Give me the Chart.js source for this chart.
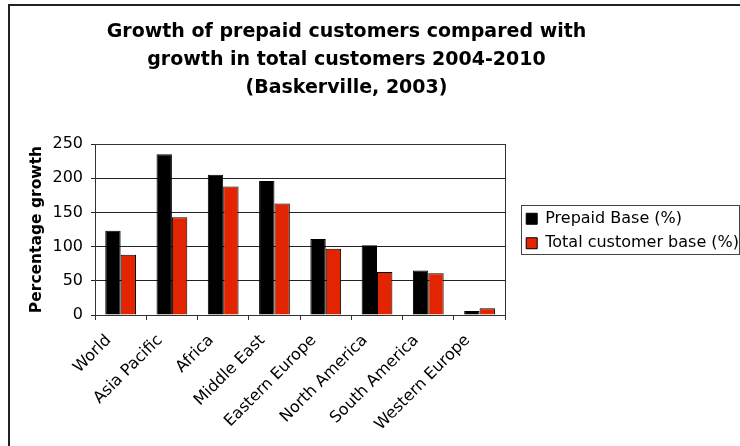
<!DOCTYPE html>
<html>
<head>
<meta charset="utf-8">
<script src="https://cdn.jsdelivr.net/npm/chart.js@4"></script>
<style>
  html, body { margin: 0; padding: 0; background: #fff; overflow: hidden; }
  #wrap { position: relative; width: 740px; height: 446px; overflow: hidden; }
  #frame { position: absolute; left: 8px; top: 4px; width: 800px; height: 480px; border: 2px solid #222; box-sizing: border-box; }
  #box { position: absolute; left: 0; top: 0; width: 749px; height: 446px; }
</style>
</head>
<body>
<div id="wrap">
  <div id="frame"></div>
  <div id="box"><canvas id="growthChart"></canvas></div>
</div>
<script>
// * data
const regions = ["World", "Asia Pacific", "Africa", "Middle East", "Eastern Europe", "North America", "South America", "Western Europe"];
const prepaidBase = [123, 235, 205, 196, 111, 102, 65, 6];
const totalBase = [88, 143, 188, 163, 97, 63, 61, 10];
const yTicks = [0, 50, 100, 150, 200, 250];

Chart.defaults.font.family = "'DejaVu Sans', Verdana, sans-serif";
Chart.defaults.color = "#000";

// ? title centred on the old excel chart width, not the canvas
const titleShift = {
  id: "titleShift",
  afterLayout(chart) {
    chart.titleBlock.left = 0;
    chart.titleBlock.right = 693;
  },
};

// ? box round the plot area and round the legend
const boxes = {
  id: "boxes",
  beforeDatasetsDraw(chart) {
    const { ctx, chartArea: a } = chart;
    ctx.save();
    ctx.strokeStyle = "#333";
    ctx.lineWidth = 1;
    ctx.strokeRect(Math.round(a.left) + 0.5, Math.round(a.top) + 0.5, Math.round(a.right - a.left), Math.round(a.bottom - a.top));
    ctx.restore();
  },
  afterDraw(chart) {
    const hb = chart.legend.legendHitBoxes;
    if (!hb || hb.length < 2) return;
    const ctx = chart.ctx;
    const top = Math.round(hb[0].top - 6) + 0.5;
    const bottom = Math.round(hb[1].top + hb[1].height + 3) + 0.5;
    ctx.save();
    ctx.strokeStyle = "#444";
    ctx.lineWidth = 1;
    ctx.strokeRect(Math.round(hb[0].left - 5) + 0.5, top, 218, bottom - top);
    ctx.restore();
  },
};

const ctx = document.getElementById("growthChart").getContext("2d");
const growthChart = new Chart(ctx, {
  type: "bar",
  data: {
    labels: regions,
    datasets: [
      {
        label: "Prepaid Base (%)",
        data: prepaidBase,
        backgroundColor: "#000",
        borderColor: "#000",
        borderWidth: 1,
      },
      {
        label: "Total customer base (%)",
        data: totalBase,
        backgroundColor: "#e22400",
        borderColor: "#000",
        borderWidth: 1,
      },
    ],
  },
  options: {
    responsive: true,
    maintainAspectRatio: false,
    animation: false,
    datasets: { bar: { barPercentage: 1, categoryPercentage: 0.6 } },
    layout: { padding: 0 },
    plugins: {
      title: {
        display: true,
        text: [
          "Growth of prepaid customers compared with",
          "growth in total customers 2004-2010",
          "(Baskerville, 2003)",
        ],
        font: { size: 19, weight: "bold", lineHeight: 1.4737 },
        color: "#000",
        padding: { top: 18, bottom: 42 },
      },
      legend: {
        position: "right",
        maxWidth: 260,
        // spacer title, pushes the items down a bit
        title: { display: true, text: " ", font: { size: 10, lineHeight: 1 }, padding: 3 },
        labels: {
          boxWidth: 11,
          boxHeight: 11,
          padding: 8.5,
          font: { size: 16 },
          color: "#000",
        },
      },
      tooltip: { enabled: false },
    },
    scales: {
      x: {
        grid: { display: true, drawOnChartArea: false, tickLength: 5, color: "#333" },
        border: { display: true, color: "#333" },
        ticks: { autoSkip: false, minRotation: 45, maxRotation: 45, font: { size: 16 }, color: "#000", padding: 11, labelOffset: -12 },
        afterFit(s) { s.height = 131; },
      },
      y: {
        min: 0,
        max: 250,
        afterBuildTicks(s) { s.ticks = yTicks.map((v) => ({ value: v })); },
        grid: { color: "#222", tickLength: 4 },
        border: { display: true, color: "#333" },
        ticks: { font: { size: 16 }, color: "#000", padding: 8 },
        title: {
          display: true,
          text: "Percentage growth",
          font: { size: 15.5, weight: "bold" },
          color: "#000",
          padding: { top: 28, bottom: 0 },
        },
        afterFit(s) { s.width = 95; },
      },
      gap: {
        type: "linear",
        position: "right",
        display: true,
        grid: { display: false },
        border: { display: false },
        ticks: { display: false },
        afterFit(s) { s.width = 12.5; },
      },
    },
  },
  plugins: [titleShift, boxes],
});
</script>
</body>
</html>
